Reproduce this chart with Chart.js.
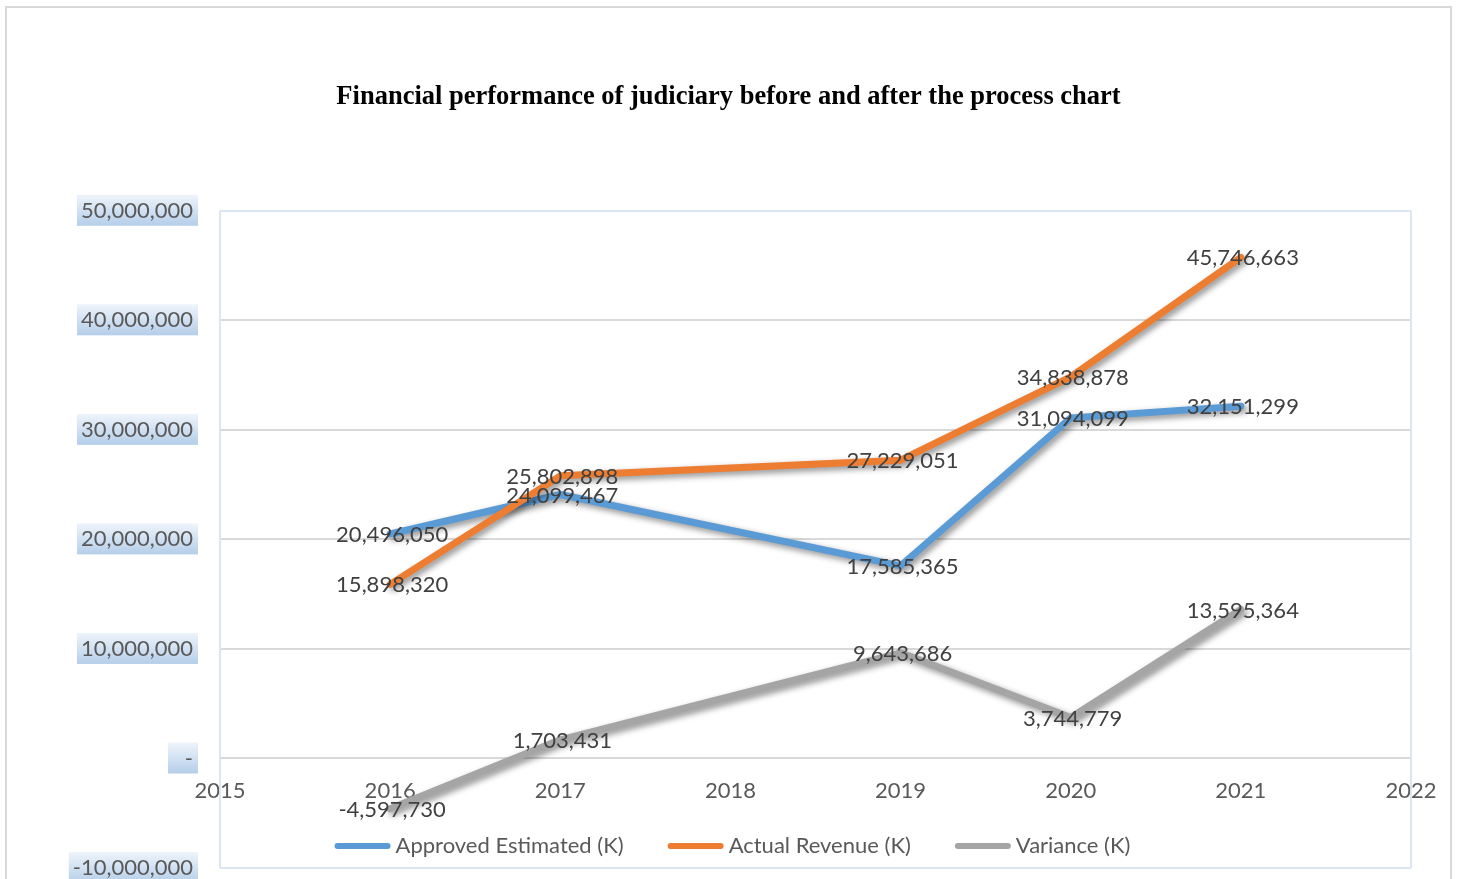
<!DOCTYPE html>
<html>
<head>
<meta charset="utf-8">
<script src="https://cdn.jsdelivr.net/npm/chart.js@4/dist/chart.umd.min.js"></script>
<style>
  html, body { margin: 0; padding: 0; background: #fff; }
  #wrap { width: 1457px; height: 879px; }
</style>
</head>
<body>
<div id="wrap"><canvas id="chart" width="1457" height="879"></canvas></div>
<script>
// data
const years = [2016, 2017, 2019, 2020, 2021];
const approved = [20496050, 24099467, 17585365, 31094099, 32151299];
const actual = [15898320, 25802898, 27229051, 34838878, 45746663];
const variance = [-4597730, 1703431, 9643686, 3744779, 13595364];
const seriesNames = ['Approved Estimated (K)', 'Actual Revenue (K)', 'Variance (K)'];
const seriesColors = ['#5b9bd5', '#ed7d31', '#a5a5a5'];
const xRange = [2015, 2022];
const yRange = [-10000000, 50000000];
const yStep = 10000000;

const FONT = 'Lato, "Liberation Sans", sans-serif';
const FS = 22;
const TEXT = '#595959';

function fmt(v) {
    return v.toLocaleString('en-US');
}

function points(vals) {
    return years.map((x, i) => ({ x: x, y: vals[i] }));
}

// outer frame, plot border and the blue boxes behind y tick labels
const frame = {
    id: 'frame',
    beforeDraw(chart) {
        const { ctx, chartArea: a, scales: { y } } = chart;
        ctx.save();
        ctx.fillStyle = '#fff';
        ctx.fillRect(0, 0, chart.width, chart.height);
        ctx.strokeStyle = '#d9d9d9';
        ctx.lineWidth = 2;
        ctx.strokeRect(6, 7, chart.width - 12, chart.height + 20);

        ctx.font = FS + 'px ' + FONT;
        const right = a.left - y.options.ticks.padding + 5;
        y.ticks.forEach((t, i) => {
            const py = y.getPixelForTick(i);
            const w = Math.max(ctx.measureText(t.label).width + 9, 30);
            const top = py - 16, h = 31;
            const g = ctx.createLinearGradient(0, top, 0, top + h);
            g.addColorStop(0, '#eef4fb');
            g.addColorStop(1, '#b5cee9');
            ctx.fillStyle = g;
            ctx.fillRect(right - w, top, w, h);
        });
        ctx.restore();
    },
    beforeDatasetsDraw(chart) {
        const { ctx, chartArea: a } = chart;
        ctx.save();
        ctx.strokeStyle = '#dae6f3';
        ctx.lineWidth = 2;
        ctx.beginPath();
        ctx.moveTo(a.left, a.top); ctx.lineTo(a.left, a.bottom);
        ctx.moveTo(a.right, a.top); ctx.lineTo(a.right, a.bottom);
        ctx.stroke();
        ctx.restore();
    }
};

// soft drop shadow under the lines
const shadow = {
    id: 'shadow',
    beforeDatasetDraw(chart) {
        const c = chart.ctx;
        c.save();
        c.shadowColor = 'rgba(0,0,0,0.45)';
        c.shadowBlur = 6;
        c.shadowOffsetX = 3;
        c.shadowOffsetY = 3;
    },
    afterDatasetDraw(chart) {
        chart.ctx.restore();
    }
};

// value labels centred on each point
const valueLabels = {
    id: 'valueLabels',
    afterDatasetsDraw(chart) {
        const ctx = chart.ctx;
        ctx.save();
        ctx.font = FS + 'px ' + FONT;
        ctx.fillStyle = '#404040';
        ctx.textAlign = 'center';
        ctx.textBaseline = 'middle';
        chart.data.datasets.forEach((ds, di) => {
            chart.getDatasetMeta(di).data.forEach((pt, i) => {
                ctx.fillText(fmt(ds.data[i].y), pt.x + 2, pt.y + 1);
            });
        });
        ctx.restore();
    }
};

// legend drawn inside the plot area, near its bottom
const insideLegend = {
    id: 'insideLegend',
    afterDraw(chart) {
        const { ctx, chartArea: a } = chart;
        ctx.save();
        ctx.font = FS + 'px ' + FONT;
        ctx.textBaseline = 'middle';
        const sample = 56, gap = 5, between = 44;
        const items = chart.data.datasets.map(ds => ({
            text: ds.label, color: ds.borderColor, w: ctx.measureText(ds.label).width
        }));
        const total = items.reduce((s, it) => s + sample + gap + it.w, 0) + between * (items.length - 1);
        let x = chart.width / 2 + 4 - total / 2;
        const y = a.bottom - 22;
        items.forEach(it => {
            ctx.strokeStyle = it.color;
            ctx.lineWidth = 6;
            ctx.lineCap = 'round';
            ctx.beginPath();
            ctx.moveTo(x + 3, y);
            ctx.lineTo(x + sample - 3, y);
            ctx.stroke();
            ctx.fillStyle = TEXT;
            ctx.fillText(it.text, x + sample + gap, y);
            x += sample + gap + it.w + between;
        });
        ctx.restore();
    }
};

function lineSet(i, vals, order) {
    return {
        label: seriesNames[i],
        data: points(vals),
        borderColor: seriesColors[i],
        backgroundColor: seriesColors[i],
        borderWidth: 7,
        borderCapStyle: 'round',
        borderJoinStyle: 'round',
        pointRadius: 0,
        tension: 0,
        order: order
    };
}

new Chart(document.getElementById('chart'), {
    type: 'line',
    data: {
        datasets: [
            lineSet(0, approved, 3),
            lineSet(1, actual, 2),
            lineSet(2, variance, 1)
        ]
    },
    options: {
        responsive: false,
        animation: false,
        layout: { padding: { left: 46, right: 46, top: 0, bottom: 11 } },
        scales: {
            x: {
                type: 'linear',
                min: xRange[0],
                max: xRange[1],
                position: { y: 0 },
                grid: { display: false, drawTicks: false },
                border: { display: false },
                ticks: {
                    stepSize: 1,
                    padding: 19,
                    color: TEXT,
                    font: { family: FONT, size: FS },
                    callback: v => String(v)
                },
                afterFit(s) { s.height = 0; }
            },
            y: {
                min: yRange[0],
                max: yRange[1],
                grid: {
                    drawTicks: false,
                    lineWidth: 2,
                    color: c => (c.tick && (c.tick.value === yRange[0] || c.tick.value === yRange[1])) ? '#dae6f3' : '#d9d9d9'
                },
                border: { display: false },
                ticks: {
                    stepSize: yStep,
                    padding: 27,
                    color: TEXT,
                    font: { family: FONT, size: FS },
                    callback: v => v === 0 ? '-' : fmt(v)
                },
                afterFit(s) {
                    s.width = 174;
                    s.paddingTop = 0;
                    s.paddingBottom = 0;
                }
            }
        },
        plugins: {
            legend: { display: false },
            tooltip: { enabled: false },
            title: {
                display: true,
                text: 'Financial performance of judiciary before and after the process chart',
                color: '#000',
                font: { family: '"Liberation Serif", "Times New Roman", serif', size: 26.5, weight: 'bold' },
                padding: { top: 81, bottom: 98 }
            }
        }
    },
    plugins: [frame, shadow, valueLabels, insideLegend]
});
</script>
</body>
</html>
